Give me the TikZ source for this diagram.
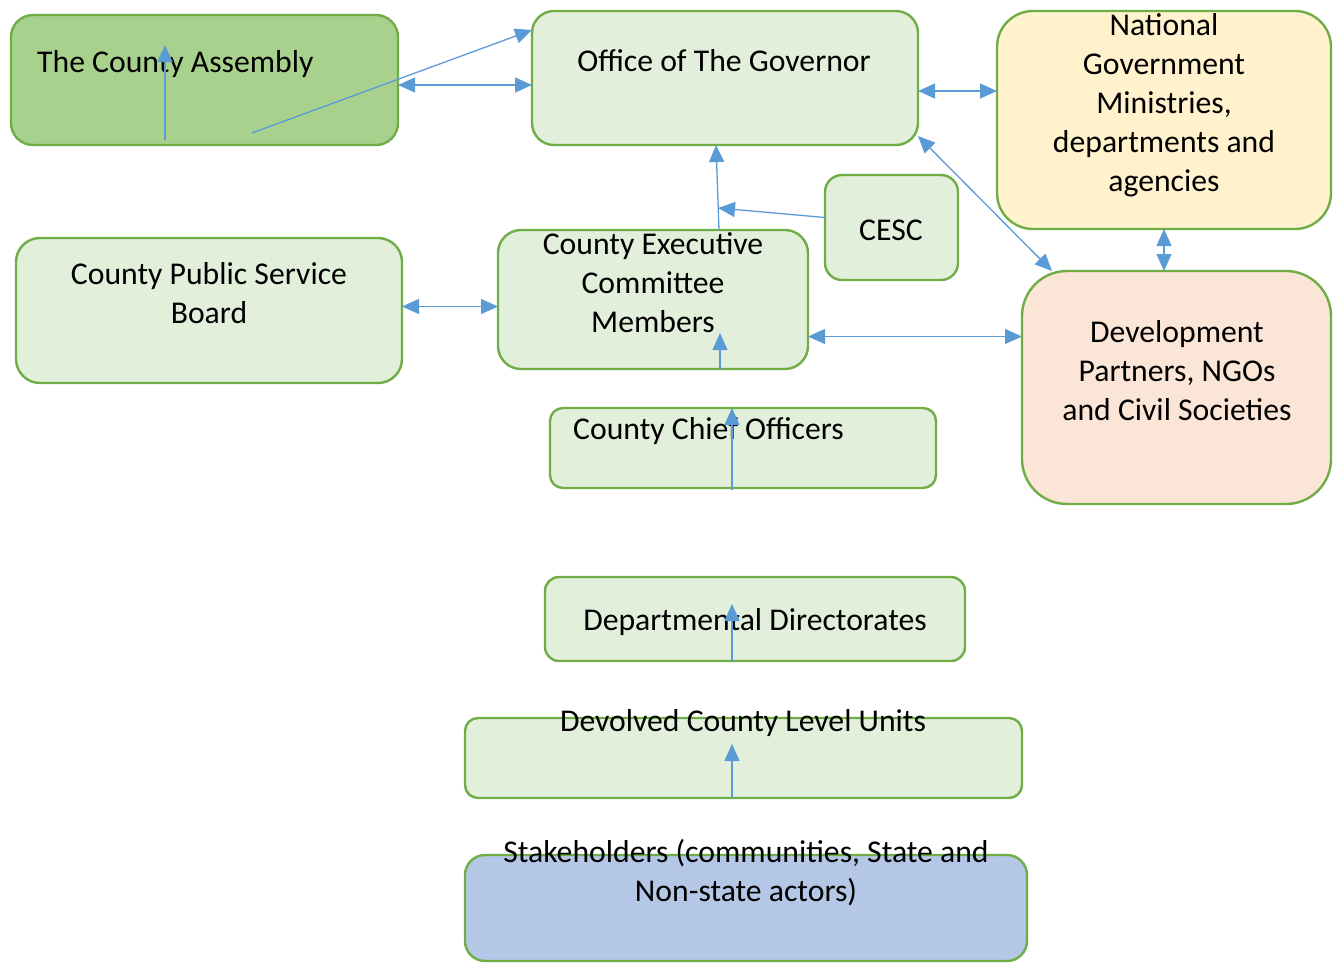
\documentclass[tikz,border=0pt]{standalone}
\usepackage{fontspec}
\setmainfont{Carlito}
\usetikzlibrary{arrows.meta}
\usetikzlibrary{positioning, calc}

\definecolor{boxline}{HTML}{70AD47}
\definecolor{assemblyfill}{HTML}{A9D18E}
\definecolor{lightfill}{HTML}{E2EFDA}
\definecolor{nationalfill}{HTML}{FFF2CC}
\definecolor{partnerfill}{HTML}{FBE5D6}
\definecolor{stakefill}{HTML}{B4C7E7}
\definecolor{linkblue}{HTML}{5B9BD5}

\begin{document}
\begin{tikzpicture}[x=1pt,y=-1pt,
    box/.style={rectangle,draw=boxline,line width=2.4pt,inner sep=0pt,outer sep=0pt,anchor=north west},
    boxtext/.style={font=\fontsize{31.7}{39}\selectfont,inner sep=0pt,align=flush center},
    link/.style={draw=linkblue,line width=1.3pt,-{Triangle[length=17pt,width=15pt]}},
    both/.style={{Triangle[length=17pt,width=15pt]}-{Triangle[length=17pt,width=15pt]}}]

    \useasboundingbox (0,0) rectangle (1342,962);

    % boxes
    \node[box,fill=assemblyfill,rounded corners=22pt,minimum width=387pt,minimum height=130pt] (assembly) at (11,15) {};
    \node[box,fill=lightfill,rounded corners=22pt,minimum width=386pt,minimum height=134pt] (governor) at (532,11) {};
    \node[box,fill=nationalfill,rounded corners=36pt,minimum width=334pt,minimum height=218pt] (national) at (997,11) {};
    \node[box,fill=lightfill,rounded corners=17pt,minimum width=133pt,minimum height=105pt] (cesc) at (825,175) {};
    \node[box,fill=lightfill,rounded corners=24pt,minimum width=386pt,minimum height=145pt] (psb) at (16,238) {};
    \node[box,fill=lightfill,rounded corners=23pt,minimum width=310pt,minimum height=139pt] (cec) at (498,230) {};
    \node[box,fill=partnerfill,rounded corners=45pt,minimum width=309pt,minimum height=233pt] (partners) at (1022,271) {};
    \node[box,fill=lightfill,rounded corners=13pt,minimum width=386pt,minimum height=80pt] (chief) at (550,408) {};
    \node[box,fill=lightfill,rounded corners=14pt,minimum width=420pt,minimum height=84pt] (directorates) at (545,577) {};
    \node[box,fill=lightfill,rounded corners=13pt,minimum width=557pt,minimum height=80pt] (devolved) at (465,718) {};
    \node[box,fill=stakefill,rounded corners=20pt,minimum width=562pt,minimum height=106pt] (stakeholders) at (465,855) {};

    % texts
    \node[boxtext,anchor=base west] (assemblytext) at (37,72) {The County Assembly};
    \node[boxtext,anchor=base] (governortext) at (724,71) {Office of The Governor};
    \node[boxtext,text width=320pt,anchor=base] (nationaltext) at (1164,35) {National\\Government\\Ministries,\\departments and\\agencies};
    \node[boxtext,anchor=base] (cesctext) at (891,240) {CESC};
    \node[boxtext,text width=340pt,anchor=base] (psbtext) at (209,284) {County Public Service\\Board};
    \node[boxtext,text width=300pt,anchor=base] (cectext) at (653,254) {County Executive\\Committee\\Members};
    \node[boxtext,text width=300pt,anchor=base] (partnerstext) at (1177,342) {Development\\Partners, NGOs\\and Civil Societies};
    \node[boxtext,anchor=base west] (chieftext) at (573,439) {County Chief Officers};
    \node[boxtext,anchor=base] (directoratestext) at (755,630) {Departmental Directorates};
    \node[boxtext,anchor=base] (devolvedtext) at (743,731) {Devolved County Level Units};
    \node[boxtext,text width=560pt,anchor=base] (stakeholderstext) at (746,862) {Stakeholders (communities, State and\\Non-state actors)};

    % links
    \coordinate (meet) at (718,208);
    \draw[link] ([xshift=-39.5pt,yshift=5pt]assembly.south) -- ++(0,-95);
    \draw[link] ([xshift=47.5pt,yshift=12pt]assembly.south) -- ([yshift=-19pt]governor.north west);
    \draw[link,both] ([yshift=-5pt]assembly.east) -- ([yshift=-5pt]assembly.east -| governor.west);
    \draw[link,both] ([yshift=-13pt]governor.east) -- ([yshift=-13pt]governor.east -| national.west);
    \draw[link,both] ([yshift=9pt]governor.south east) -- ([xshift=30pt]partners.north west);
    \draw[link,both] (national.south) -- (national.south |- partners.north);
    \draw[link] ([xshift=66pt]cec.north) -- ([xshift=-9pt]governor.south);
    \draw[link] ([yshift=10pt]cesc.west) -- (meet);
    \draw[link,both] ([yshift=4pt]psb.east) -- ([yshift=4pt]psb.east -| cec.west);
    \draw[link,both] ([yshift=-37pt]cec.east) -- ([yshift=-37pt]cec.east -| partners.west);
    \draw[link] ([xshift=67pt]cec.south) -- ++(0,-36);
    \draw[link] ([xshift=-11pt,yshift=-2pt]chief.south) -- ([xshift=-11pt]chief.north);
    \draw[link] ([xshift=-23pt]directorates.south) -- ++(0,-57);
    \draw[link] ([xshift=-11.5pt]devolved.south) -- ++(0,-54);
\end{tikzpicture}
\end{document}
